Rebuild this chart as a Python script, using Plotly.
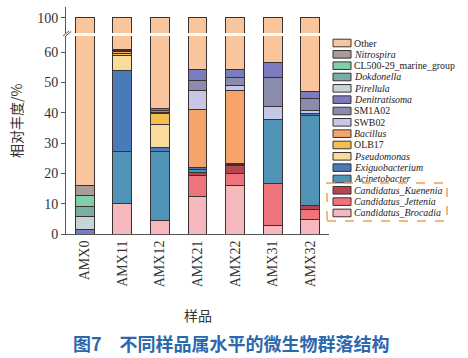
import plotly.graph_objects as go

samples = ["AMX0", "AMX11", "AMX12", "AMX21", "AMX22", "AMX31", "AMX32"]

# bottom-to-top stacking order
genera = ["Candidatus_Brocadia", "Candidatus_Jettenia", "Candidatus_Kuenenia",
          "Acinetobacter", "Exiguobacterium", "Pseudomonas", "OLB17", "Bacillus",
          "SWB02", "SM1A02", "Denitratisoma", "Pirellula", "Dokdonella",
          "CL500-29_marine_group", "Nitrospira", "Other"]
italic = {"Candidatus_Brocadia", "Candidatus_Jettenia", "Candidatus_Kuenenia",
          "Acinetobacter", "Exiguobacterium", "Pseudomonas", "Bacillus",
          "Denitratisoma", "Pirellula", "Dokdonella", "Nitrospira"}

brocadia = [0, 10.2, 4.6, 12.5, 16.0, 2.7, 4.9]
jettenia = [0, 0, 0, 6.8, 4.1, 13.8, 3.3]
kuenenia = [0, 0, 0, 1.0, 2.5, 0, 1.1]
acinetobacter = [0, 17.1, 22.7, 0.9, 0.3, 21.4, 29.8]
exiguobacterium = [0, 26.5, 1.3, 0.8, 0.4, 0, 0.6]
pseudomonas = [0, 5.2, 7.4, 0, 0, 0, 0]
olb17 = [0, 0.6, 3.7, 0, 0, 0, 0]
bacillus = [0, 0.6, 0.3, 19.2, 23.9, 0, 0]
swb02 = [0, 0, 0, 6.0, 1.8, 4.2, 1.0]
sm1a02 = [0, 0.4, 0.7, 3.4, 2.6, 9.5, 4.1]
denitratisoma = [1.4, 0.4, 0.8, 3.8, 2.8, 5.1, 2.2]
pirellula = [4.4, 0, 0, 0, 0, 0, 0]
dokdonella = [3.4, 0, 0, 0, 0, 0, 0]
cl500 = [3.5, 0, 0, 0, 0, 0, 0]
nitrospira = [3.4, 0, 0, 0, 0, 0, 0]

series = [brocadia, jettenia, kuenenia, acinetobacter, exiguobacterium, pseudomonas,
          olb17, bacillus, swb02, sm1a02, denitratisoma, pirellula, dokdonella,
          cl500, nitrospira]
other = [round(100 - sum(s[i] for s in series), 2) for i in range(len(samples))]
series.append(other)

colors = ["#f5b9bd", "#ef737a", "#b5454f", "#4f93b6", "#4a7ab8", "#f8dc9e",
          "#f5bf4f", "#f6a468", "#c6c6e6", "#8b8bae", "#7b7bbf", "#c4d4d7",
          "#7aaea5", "#80cfa8", "#a99b99", "#f9c59c"]

# pixel layout helpers
L, R, T, B = 66, 329, 7, 234
W, H = 468, 358
def px(x):
    return (x - L) / (R - L)
def py(y):
    return (B - y) / (B - T)

fig = go.Figure()
for name, vals, col in zip(genera, series, colors):
    v = [val if val > 0 else None for val in vals]
    for ax in ["y", "y2"]:
        fig.add_trace(go.Bar(x=samples, y=v, name=name, yaxis=ax, width=0.5,
                             marker=dict(color=col, line=dict(color="#3a3232", width=1)),
                             showlegend=False, hoverinfo="skip"))

axis_font = dict(family="Liberation Serif", size=14, color="#333")
fig.update_layout(
    width=W, height=H, barmode="stack",
    margin=dict(l=L, r=W - R, t=T, b=H - B),
    plot_bgcolor="white", paper_bgcolor="white",
    xaxis=dict(range=[-0.5, 6.5], showline=True, linecolor="#555", linewidth=1,
               ticks="", tickangle=-90, tickfont=axis_font, anchor="y"),
    yaxis=dict(domain=[0, py(36)], range=[0, 65.3], tickvals=[0, 10, 20, 30, 40, 50, 60],
               showline=True, linecolor="#555", linewidth=1, ticks="outside", ticklen=4,
               tickcolor="#555", showgrid=False, zeroline=False, tickfont=axis_font),
    yaxis2=dict(domain=[py(33), 1], range=[95.05, 103.6], tickvals=[100],
                showline=True, linecolor="#555", linewidth=1, ticks="outside", ticklen=4,
                tickcolor="#555", showgrid=False, zeroline=False, tickfont=axis_font,
                anchor="x"),
)

shapes = []
annotations = []
# axis break marks
for dx in (0, 2.2):
    shapes.append(dict(type="line", xref="paper", yref="paper",
                       x0=px(63 + dx), y0=py(36 + dx * 0.2), x1=px(69 + dx), y1=py(31 + dx * 0.2),
                       line=dict(color="#555", width=1)))

# manual legend (top = Other)
row0, step = 43, 11.33
for i, idx in enumerate(range(len(genera) - 1, -1, -1)):
    yc = row0 + i * step
    shapes.append(dict(type="rect", xref="paper", yref="paper",
                       x0=px(333), x1=px(351), y0=py(yc + 3.8), y1=py(yc - 3.8),
                       fillcolor=colors[idx], line=dict(color="#3a3232", width=1)))
    nm = genera[idx]
    txt = f"<i>{nm}</i>" if nm in italic else nm
    annotations.append(dict(xref="paper", yref="paper", x=px(352), y=py(yc),
                            xanchor="left", yanchor="middle", text=txt, showarrow=False,
                            font=dict(family="Liberation Serif", size=9.9, color="#222")))
# dashed box around anammox genera
shapes.append(dict(type="rect", xref="paper", yref="paper",
                   x0=px(327), x1=px(447), y0=py(221), y1=py(183),
                   line=dict(color="#f0a050", width=1.5, dash="dash"), fillcolor="rgba(0,0,0,0)"))

annotations.append(dict(xref="paper", yref="paper", x=px(16), y=py(121), text="相对丰度/%",
                        textangle=-90, showarrow=False, xanchor="center", yanchor="middle",
                        font=dict(family="Noto Sans CJK SC", size=14, color="#333")))
annotations.append(dict(xref="paper", yref="paper", x=px(197.5), y=py(315), text="样品",
                        showarrow=False, xanchor="center", yanchor="middle",
                        font=dict(family="Noto Sans CJK SC", size=14, color="#333")))
annotations.append(dict(xref="paper", yref="paper", x=px(231), y=py(343),
                        text="<b>图7　不同样品属水平的微生物群落结构</b>",
                        showarrow=False, xanchor="center", yanchor="middle",
                        font=dict(family="Noto Sans CJK SC", size=18, color="#2b68ad")))

fig.update_layout(shapes=shapes, annotations=annotations)
fig.write_html("out.html", config={"displayModeBar": False},
               post_script="document.body.style.margin='0';document.body.style.overflow='hidden';")
